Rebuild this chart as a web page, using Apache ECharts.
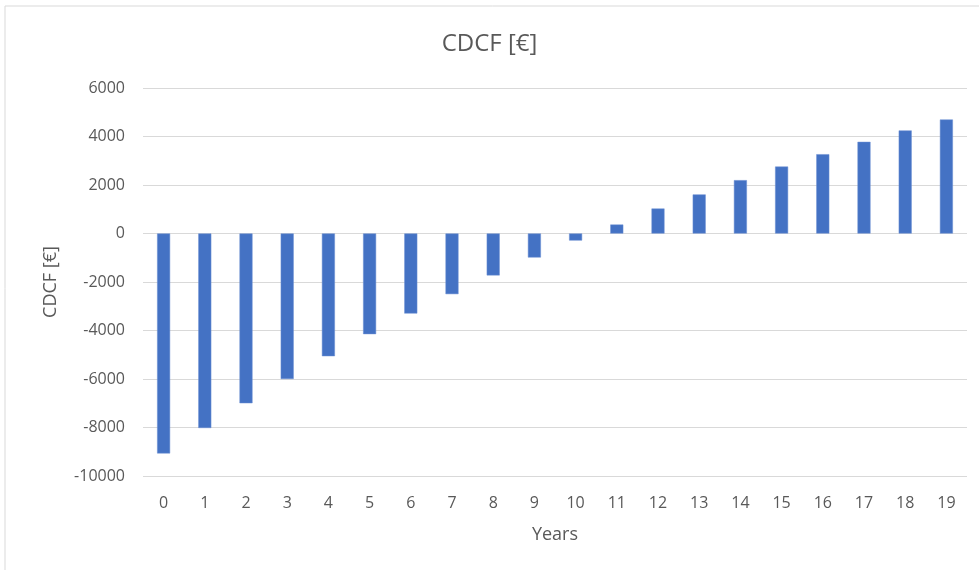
<!DOCTYPE html>
<html>
<head>
<meta charset="utf-8">
<title>CDCF [€]</title>
<script src="https://cdn.jsdelivr.net/npm/echarts@6/dist/echarts.min.js"></script>
<style>
  html, body { margin: 0; padding: 0; background: #ffffff; }
  #chart { width: 979px; height: 570px; }
</style>
</head>
<body>
<div id="chart"></div>
<script>
// Years of the project
const years = ['0','1','2','3','4','5','6','7','8','9','10','11','12','13','14','15','16','17','18','19'];
// Cumulative discounted cash flow per year, in euro
const cdcf = [-9070, -8020, -7000, -6000, -5060, -4150, -3300, -2500, -1730, -990,
              -290, 370, 1030, 1610, 2200, 2760, 3270, 3780, 4250, 4700];
// Value axis range and step
const yMin = -10000;
const yMax = 6000;
const yStep = 2000;

const textColor = '#595959';
const fontFamily = '"Open Sans", "Noto Sans", sans-serif';

const chart = echarts.init(document.getElementById('chart'), null, { renderer: 'canvas' });
chart.setOption({
  backgroundColor: '#ffffff',
  animation: false,
  title: {
    text: 'CDCF [€]',
    left: 'center',
    top: 27,
    textStyle: { color: textColor, fontSize: 24, fontWeight: 'normal', fontFamily: fontFamily }
  },
  graphic: [{
    type: 'rect',
    shape: { x: 5, y: 6, width: 1000, height: 600 },
    style: { fill: 'none', stroke: '#d9d9d9', lineWidth: 1 },
    silent: true
  }],
  grid: { left: 143, right: 12, top: 88, bottom: 94, containLabel: false },
  xAxis: {
    type: 'category',
    data: years,
    name: 'Years',
    nameLocation: 'middle',
    nameGap: 50,
    nameTextStyle: { color: textColor, fontSize: 18, fontFamily: fontFamily },
    axisLine: { show: false },
    axisTick: { show: false },
    axisLabel: { color: textColor, fontSize: 16, margin: 19, fontFamily: fontFamily },
    position: 'bottom'
  },
  yAxis: {
    type: 'value',
    min: yMin,
    max: yMax,
    interval: yStep,
    name: 'CDCF [€]',
    nameLocation: 'middle',
    nameGap: 83,
    nameTextStyle: { color: textColor, fontSize: 18, fontFamily: fontFamily },
    axisLine: { show: false },
    axisTick: { show: false },
    axisLabel: {
      color: textColor, fontSize: 16, margin: 18, fontFamily: fontFamily,
      formatter: function (v) { return String(v); }
    },
    splitLine: { show: true, lineStyle: { color: '#d9d9d9', width: 1 } }
  },
  series: [{
    type: 'bar',
    data: cdcf,
    barWidth: 13,
    itemStyle: { color: '#4472c4', borderColor: '#6a8fd3', borderWidth: 0.5 }
  }]
});
</script>
</body>
</html>
